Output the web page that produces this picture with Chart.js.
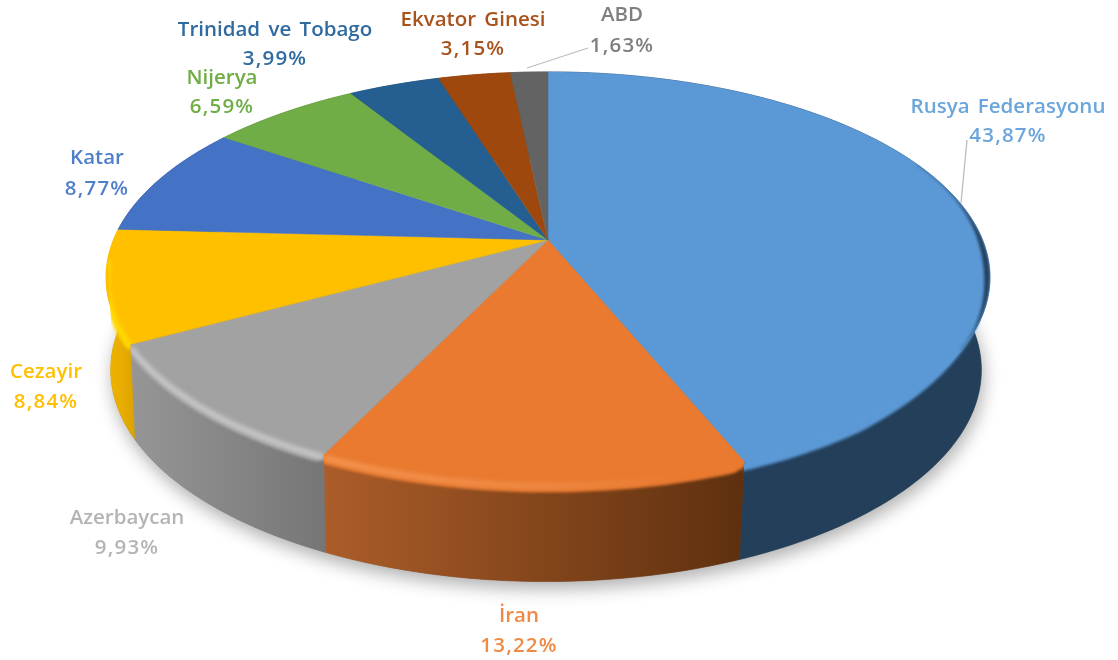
<!DOCTYPE html>
<html><head><meta charset="utf-8">
<script src="https://cdn.jsdelivr.net/npm/chart.js@4"></script>
<style>html,body{margin:0;padding:0;background:#fff}#w{width:1118px;height:660px;position:relative}canvas{filter:blur(.55px)}</style>
</head><body><div id="w"><canvas id="c" width="1118" height="660"></canvas></div>
<script>
const categories=["Rusya Federasyonu","İran","Azerbaycan","Cezayir","Katar","Nijerya","Trinidad ve Tobago","Ekvator Ginesi","ABD"];
const values=[43.87,13.22,9.93,8.84,8.77,6.59,3.99,3.15,1.63];
const valueLabels=["43,87%","13,22%","9,93%","8,84%","8,77%","6,59%","3,99%","3,15%","1,63%"];
const faceColors=["#5B99D6","#E97A2F","#A2A2A2","#FFC000","#4472C4","#70AD47","#255E91","#9E480E","#636363"];
const labelColors=["#6AA5DC","#EE8A45","#B4B4B4","#FFC000","#4F7FCB","#70AD47","#2F6AA0","#A8531B","#7F7F7F"];
const wallLeft=["#233F5A","#AC5D29","#969696","#F2B600","#324F8F","#527F33","#1B4468","#733409","#484848"];
const wallRight=["#233F5A","#5E300F","#767676","#DDA400","#324F8F","#527F33","#1B4468","#733409","#484848"];
const rimColors=[null,"#F79A58","#CFCFCF","#FFE200",null,null,null,null,null];
const labelPos=[[1008,107,136],[519,616,646],[127,518,548],[46,372,402],[97,158,189],[222,78,107],[275,30,59],[473,20,49],[622,15,46]];
const leaders=[[961,203,967,140],[527,68,588,48]];

const CX=548,CY=240,R=434.6,A=198.7,K=0.182,DEPTH=92.5,MID=277.5;
function P(th,t){
  const u=Math.sin(th),v=Math.cos(th),w=1+K*v;
  let x=CX+R*u/w,y=CY-A*v/w;
  return [CX-2*t+(x-CX)*(1-0.015*t), y+t*(DEPTH+(y-MID)*0.03)];
}
function arcPts(a,b,t){const n=Math.max(2,Math.ceil(Math.abs(b-a)/0.02)),o=[];for(let i=0;i<=n;i++){const th=a+(b-a)*i/n;o.push(P(th,typeof t==='function'?t(th):t));}return o;}
function trace(ctx,pts,move){pts.forEach((p,i)=>{(i===0&&move)?ctx.moveTo(p[0],p[1]):ctx.lineTo(p[0],p[1]);});}

const pie3d={id:'pie3d',
 beforeDatasetDraw(chart,args){
  const ctx=chart.ctx,arcs=chart.getDatasetMeta(args.index).data;
  const sl=arcs.map(e=>{const p=e.getProps(['startAngle','endAngle'],true);return [p.startAngle+Math.PI/2,p.endAngle+Math.PI/2];});
  // drop shadow of base
  ctx.save();ctx.shadowColor='rgba(0,0,0,.32)';ctx.shadowBlur=18;ctx.shadowOffsetX=2;ctx.shadowOffsetY=7;
  ctx.fillStyle='#777';ctx.beginPath();trace(ctx,arcPts(1.0,5.2,1),true);ctx.closePath();ctx.fill();ctx.restore();
  // walls
  sl.forEach((s,i)=>{
    const top=arcPts(s[0],s[1],0),bot=arcPts(s[1],s[0],1);
    const xs=top.concat(bot).map(p=>p[0]);
    const g=ctx.createLinearGradient(Math.min(...xs),0,Math.max(...xs),0);
    g.addColorStop(0,wallLeft[i]);g.addColorStop(1,wallRight[i]);
    ctx.fillStyle=g;ctx.strokeStyle=g;ctx.lineWidth=.6;
    ctx.beginPath();trace(ctx,top,true);trace(ctx,bot,false);ctx.closePath();ctx.fill();ctx.stroke();
  });
  // top face
  sl.forEach((s,i)=>{
    ctx.fillStyle=faceColors[i];ctx.strokeStyle=faceColors[i];ctx.lineWidth=.5;
    ctx.beginPath();ctx.moveTo(CX,CY);trace(ctx,arcPts(s[0],s[1],0),false);ctx.closePath();ctx.fill();ctx.stroke();
  });
  // rounded bevel along the front rim: face colour rolls over the wall, then a soft highlight
  sl.forEach((s,i)=>{
    if(i>3)return;
    const m1=Math.max(s[0],1.95),m2=Math.min(s[1],4.62);
    const a=i===0?2.0:s[0], b=m2;
    ctx.save();
    ctx.beginPath();ctx.moveTo(CX,CY);
    trace(ctx,arcPts(s[0],m1,0),false);
    trace(ctx,arcPts(m1,m2,1),false);
    trace(ctx,arcPts(m2,s[1],0),false);
    ctx.closePath();ctx.clip();
    ctx.filter='blur(1.6px)';
    const sp=i===0?0.5:0.04;
    const bandT=th=>0.095*Math.min(1,Math.max(0,(th-(a-0.02))/sp));
    ctx.fillStyle=faceColors[i];
    ctx.beginPath();trace(ctx,arcPts(a-.04,b+.04,-0.06),true);trace(ctx,arcPts(b+.04,a-.04,bandT),false);ctx.closePath();ctx.fill();
    if(rimColors[i]){
      ctx.filter='blur(2.6px)';ctx.lineWidth=5;
      let st=rimColors[i];
      if(i===1){const g=ctx.createLinearGradient(325,0,745,0);g.addColorStop(0,'#F79A58');g.addColorStop(.55,'#F08C48');g.addColorStop(.85,faceColors[1]);g.addColorStop(1,faceColors[1]);st=g;}
      ctx.strokeStyle=st;ctx.beginPath();trace(ctx,arcPts(a,b,0.03),true);ctx.stroke();
    }
    ctx.restore();
  });
  // dark tapered inner edge on the far right of the first slice
  const dA=1.15,dB=2.1;
  const outer=arcPts(dA,dB,0);
  const inner=outer.map((p,j)=>{const f=j/(outer.length-1);return [p[0]-1-9*Math.pow(Math.sin(Math.PI*f),2)*f,p[1]];}).reverse();
  ctx.save();
  ctx.beginPath();ctx.moveTo(CX,CY);trace(ctx,arcPts(sl[0][0],sl[0][1],0),false);ctx.closePath();ctx.clip();
  ctx.filter='blur(1.5px)';ctx.fillStyle='#233F5A';
  ctx.beginPath();trace(ctx,outer,true);trace(ctx,inner,false);ctx.closePath();ctx.fill();
  ctx.restore();
  return false;
 },
 afterDraw(chart){
  const ctx=chart.ctx;
  ctx.save();
  ctx.strokeStyle='#BDBDBD';ctx.lineWidth=1.3;
  leaders.forEach(l=>{ctx.beginPath();ctx.moveTo(l[0],l[1]);ctx.lineTo(l[2],l[3]);ctx.stroke();});
  ctx.textAlign='center';ctx.textBaseline='middle';
  categories.forEach((c,i)=>{
    const p=labelPos[i];
    ctx.fillStyle=labelColors[i];
    ctx.font='600 20.5px "Open Sans"';
    ctx.wordSpacing='3px';ctx.letterSpacing='0px';
    ctx.fillText(c,p[0],p[1]);
    ctx.wordSpacing='0px';ctx.letterSpacing='1.2px';
    ctx.fillText(valueLabels[i],p[0],p[2]);
  });
  ctx.restore();
 }
};
new Chart(document.getElementById('c'),{
 type:'pie',
 data:{labels:categories,datasets:[{data:values,backgroundColor:faceColors,borderWidth:0}]},
 options:{responsive:false,animation:false,events:[],plugins:{legend:{display:false},tooltip:{enabled:false}}},
 plugins:[pie3d]
});
</script></body></html>
